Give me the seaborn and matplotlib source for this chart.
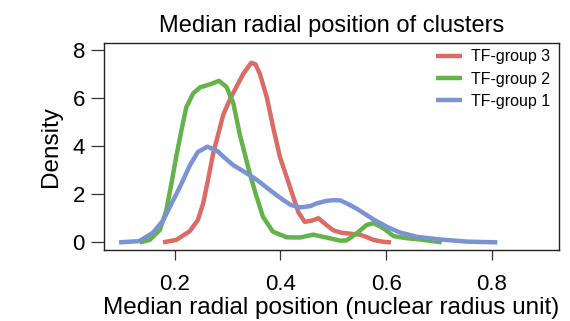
import numpy as np
import pandas as pd
import matplotlib
matplotlib.use("Agg")
import matplotlib.pyplot as plt
import seaborn as sns

# curve points (x = radial position, y = density)
g3_x = [0.178, 0.203, 0.229, 0.244, 0.254, 0.263, 0.273, 0.282, 0.292, 0.304,
        0.317, 0.330, 0.345, 0.353, 0.361, 0.374, 0.386, 0.399, 0.412, 0.424,
        0.434, 0.446, 0.459, 0.472, 0.487, 0.500, 0.515, 0.532, 0.550, 0.563,
        0.576, 0.595, 0.609]
g3_y = [0.0, 0.1, 0.47, 0.93, 1.62, 2.58, 3.7, 4.45, 5.3, 5.9,
        6.46, 7.0, 7.45, 7.38, 7.0, 6.04, 4.8, 3.55, 2.7, 1.9,
        1.25, 0.85, 0.9, 1.0, 0.72, 0.5, 0.4, 0.36, 0.32, 0.22,
        0.1, 0.02, 0.0]

g2_x = [0.134, 0.153, 0.172, 0.184, 0.194, 0.203, 0.213, 0.222, 0.235, 0.248,
        0.266, 0.284, 0.298, 0.311, 0.323, 0.342, 0.355, 0.367, 0.386, 0.412,
        0.437, 0.462, 0.487, 0.513, 0.525, 0.544, 0.563, 0.576, 0.595, 0.614,
        0.639, 0.664, 0.705]
g2_y = [0.0, 0.1, 0.51, 1.3, 2.45, 3.55, 4.66, 5.6, 6.18, 6.43,
        6.55, 6.7, 6.45, 5.77, 4.5, 2.86, 1.89, 1.06, 0.44, 0.21,
        0.2, 0.32, 0.2, 0.07, 0.08, 0.37, 0.72, 0.8, 0.58, 0.26,
        0.17, 0.12, 0.0]

g1_x = [0.095, 0.133, 0.159, 0.178, 0.194, 0.210, 0.229, 0.244, 0.262, 0.280,
        0.295, 0.311, 0.330, 0.355, 0.380, 0.405, 0.420, 0.437, 0.456, 0.469,
        0.487, 0.500, 0.513, 0.525, 0.544, 0.576, 0.601, 0.626, 0.658, 0.702,
        0.753, 0.810]
g1_y = [0.0, 0.05, 0.4, 0.9, 1.6, 2.3, 3.2, 3.75, 3.97, 3.8,
        3.5, 3.2, 2.95, 2.6, 2.17, 1.76, 1.55, 1.45, 1.5, 1.62,
        1.72, 1.75, 1.74, 1.62, 1.4, 0.95, 0.65, 0.41, 0.23, 0.12,
        0.03, 0.0]

groups = ["TF-group 3", "TF-group 2", "TF-group 1"]
colors = ["#DC6B66", "#63B24A", "#7B93D3"]

df = pd.concat([
    pd.DataFrame({"x": g3_x, "y": g3_y, "group": groups[0]}),
    pd.DataFrame({"x": g2_x, "y": g2_y, "group": groups[1]}),
    pd.DataFrame({"x": g1_x, "y": g1_y, "group": groups[2]}),
])

sns.set_style("ticks")
plt.rcParams["font.family"] = ["Liberation Sans", "DejaVu Sans"]
plt.rcParams["text.color"] = "black"
plt.rcParams["axes.labelcolor"] = "black"

fig = plt.figure(figsize=(5.7, 3.21), dpi=100)
ax = fig.add_axes([0.182, 0.221, 0.799, 0.645])

sns.lineplot(data=df, x="x", y="y", hue="group", hue_order=groups,
             palette=colors, linewidth=3.2, sort=False, ax=ax,
             solid_joinstyle="round", solid_capstyle="butt")

ax.set_xlim(0.066, 0.927)
ax.set_ylim(-0.32, 8.27)
ax.set_xticks([0.2, 0.4, 0.6, 0.8])
ax.set_xticklabels(["0.2", "0.4", "0.6", "0.8"])
ax.set_yticks([0, 2, 4, 6, 8])
ax.tick_params(axis="both", labelsize=16, width=0.9, color="#333333",
               labelcolor="black")
ax.tick_params(axis="x", length=7, pad=10)
ax.tick_params(axis="y", length=9.5, pad=4)
for sp in ax.spines.values():
    sp.set_visible(True)
    sp.set_color("#222222")
    sp.set_linewidth(1.0)

ax.set_title("Median radial position of clusters", fontsize=17, pad=8)
ax.set_xlabel("Median radial position (nuclear radius unit)", fontsize=17.5, labelpad=2)
ax.set_ylabel("Density", fontsize=17.5, labelpad=8)

ax.legend(loc="upper right", frameon=False, fontsize=11.5, handlelength=1.6,
          labelspacing=0.45, borderaxespad=0.0, handletextpad=0.6, title=None,
          bbox_to_anchor=(0.995, 1.0))

fig.savefig("out.png", dpi=100)
